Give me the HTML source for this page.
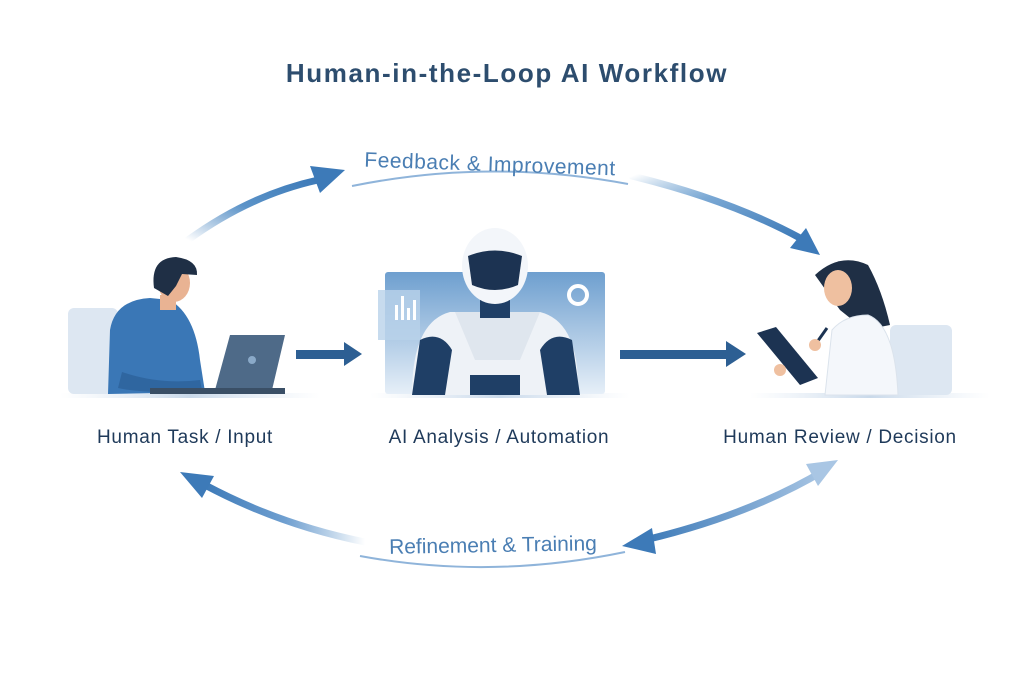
<!DOCTYPE html>
<html><head><meta charset="utf-8"><style>
html,body{margin:0;padding:0;background:#fff;}
svg{display:block;}
text{font-family:"Liberation Sans",sans-serif;}
</style></head><body>
<svg width="1024" height="683" viewBox="0 0 1024 683" xmlns="http://www.w3.org/2000/svg">
<defs>
<linearGradient id="ga" x1="0" y1="1" x2="1" y2="0"><stop offset="0" stop-color="#4a86c0" stop-opacity="0"/><stop offset="0.5" stop-color="#5b93c8"/><stop offset="1" stop-color="#3d7ab8"/></linearGradient>
<linearGradient id="gb" x1="0" y1="0" x2="1" y2="1"><stop offset="0" stop-color="#5b93c8" stop-opacity="0"/><stop offset="0.4" stop-color="#7aa8d4"/><stop offset="1" stop-color="#3d7ab8"/></linearGradient>
<linearGradient id="gc" x1="1" y1="0" x2="0" y2="0"><stop offset="0" stop-color="#5b93c8" stop-opacity="0"/><stop offset="0.5" stop-color="#6f9fd0"/><stop offset="1" stop-color="#3d7ab8"/></linearGradient>
<linearGradient id="gd" x1="1" y1="0" x2="0" y2="0"><stop offset="0" stop-color="#a9c6e4"/><stop offset="1" stop-color="#3d7ab8"/></linearGradient>
<linearGradient id="screen" x1="0" y1="0" x2="0" y2="1"><stop offset="0" stop-color="#6e9fcf"/><stop offset="1" stop-color="#e6eff8"/></linearGradient>
<linearGradient id="floor" x1="0" y1="0" x2="1" y2="0"><stop offset="0" stop-color="#dbe6f2" stop-opacity="0"/><stop offset="0.5" stop-color="#c9d9ea"/><stop offset="1" stop-color="#dbe6f2" stop-opacity="0"/></linearGradient>
</defs>

<text x="507" y="82" text-anchor="middle" font-size="26" font-weight="bold" letter-spacing="1.6" fill="#2d4d6e">Human-in-the-Loop AI Workflow</text>

<!-- top arcs -->
<path d="M188,240 Q250,195 318,180" stroke="url(#ga)" stroke-width="7" fill="none" stroke-linecap="round"/>
<polygon points="345,170 310,166 320,193" fill="#3d7ab8"/>
<path d="M352,186 Q490,158 628,184" stroke="#8fb4da" stroke-width="2" fill="none"/>
<text x="490" y="171" text-anchor="middle" font-size="21" letter-spacing="0.5" fill="#4a7eb3" transform="rotate(2 490 165)">Feedback &amp; Improvement</text>
<path d="M632,176 Q730,200 800,238" stroke="url(#gb)" stroke-width="7" fill="none" stroke-linecap="round"/>
<polygon points="820,255 790,248 806,228" fill="#3d7ab8"/>

<!-- bottom arcs -->
<path d="M365,542 Q280,525 205,485" stroke="url(#gc)" stroke-width="7" fill="none" stroke-linecap="round"/>
<polygon points="180,472 214,476 202,498" fill="#3d7ab8"/>
<path d="M360,556 Q490,580 625,552" stroke="#8fb4da" stroke-width="2" fill="none"/>
<text x="493" y="552" text-anchor="middle" font-size="21" fill="#4a7eb3" transform="rotate(-1 493 548)">Refinement &amp; Training</text>
<path d="M645,540 Q750,515 825,470" stroke="url(#gd)" stroke-width="7" fill="none" stroke-linecap="round"/>
<polygon points="622,546 652,528 656,554" fill="#3d7ab8"/>
<polygon points="838,460 806,464 818,486" fill="#a9c6e4"/>

<!-- floors -->
<rect x="60" y="393" width="260" height="5" fill="url(#floor)"/>
<rect x="370" y="393" width="260" height="5" fill="url(#floor)"/>
<rect x="750" y="393" width="240" height="5" fill="url(#floor)"/>

<!-- man -->
<rect x="68" y="308" width="50" height="86" rx="6" fill="#dde7f2"/>
<path d="M108,394 L110,330 Q115,300 150,298 L170,300 Q195,315 200,360 L205,392 Z" fill="#3a77b6"/>
<rect x="160" y="295" width="16" height="15" fill="#e9b393"/>
<ellipse cx="174" cy="283" rx="16" ry="19" fill="#e9b393"/>
<path d="M154,288 Q150,258 176,257 Q198,260 197,275 L182,274 L176,286 L168,296 Z" fill="#1f2f45"/>
<path d="M122,372 Q160,385 200,380 L202,390 Q150,395 118,388Z" fill="#2f66a0"/>
<polygon points="215,390 230,335 285,335 272,390" fill="#4e6a88"/>
<rect x="150" y="388" width="135" height="6" fill="#3a4f66"/>
<circle cx="252" cy="360" r="4" fill="#8aa9c8"/>

<!-- arrow 1 -->
<rect x="296" y="350" width="52" height="9" fill="#2d5f93"/>
<polygon points="344,342 362,354 344,366" fill="#2d5f93"/>

<!-- robot -->
<rect x="385" y="272" width="220" height="122" fill="url(#screen)" rx="3"/>
<rect x="378" y="290" width="42" height="50" fill="#b9d2ea" opacity="0.8"/>
<g fill="#fff"><rect x="395" y="305" width="3" height="15"/><rect x="401" y="296" width="3" height="24"/><rect x="407" y="308" width="3" height="12"/><rect x="413" y="300" width="3" height="20"/></g>
<circle cx="578" cy="295" r="9" fill="none" stroke="#fff" stroke-width="4"/>
<path d="M412,395 Q412,322 450,312 L540,312 Q580,322 578,395 Z" fill="#eef2f7"/>
<path d="M455,312 L475,360 L520,360 L540,312 Z" fill="#dfe6ee"/>
<path d="M412,395 L420,340 Q440,330 452,350 L445,395Z" fill="#1f3f66"/>
<path d="M580,395 L572,340 Q552,330 540,350 L547,395Z" fill="#1f3f66"/>
<rect x="480" y="300" width="30" height="18" fill="#1f3f66"/>
<ellipse cx="495" cy="266" rx="33" ry="38" fill="#f3f6fa"/>
<path d="M468,256 Q495,245 522,256 L518,285 Q495,295 472,285 Z" fill="#1c3352"/>
<rect x="470" y="375" width="50" height="20" fill="#1f3f66"/>

<!-- arrow 2 -->
<rect x="620" y="350" width="110" height="9" fill="#2d5f93"/>
<polygon points="726,341 746,354 726,367" fill="#2d5f93"/>

<!-- woman -->
<rect x="890" y="325" width="62" height="70" rx="6" fill="#dde7f2"/>
<path d="M815,275 Q840,252 868,265 Q882,290 890,325 L865,330 L840,310 Z" fill="#1f2f45"/>
<ellipse cx="838" cy="288" rx="14" ry="18" fill="#efc0a0"/>
<path d="M825,395 L832,330 Q845,315 868,315 Q895,325 898,395 Z" fill="#f4f7fb" stroke="#dbe3ec"/>
<polygon points="757,333 776,327 818,378 800,385" fill="#1c3352"/>
<line x1="815" y1="345" x2="827" y2="328" stroke="#1c3352" stroke-width="3"/>
<circle cx="780" cy="370" r="6" fill="#efc0a0"/>
<circle cx="815" cy="345" r="6" fill="#efc0a0"/>

<!-- labels -->
<text x="185" y="443" text-anchor="middle" font-size="19" letter-spacing="0.7" fill="#1f3a5a">Human Task / Input</text>
<text x="499" y="443" text-anchor="middle" font-size="19" letter-spacing="0.7" fill="#1f3a5a">AI Analysis / Automation</text>
<text x="840" y="443" text-anchor="middle" font-size="19" letter-spacing="0.7" fill="#1f3a5a">Human Review / Decision</text>
</svg>
</body></html>
